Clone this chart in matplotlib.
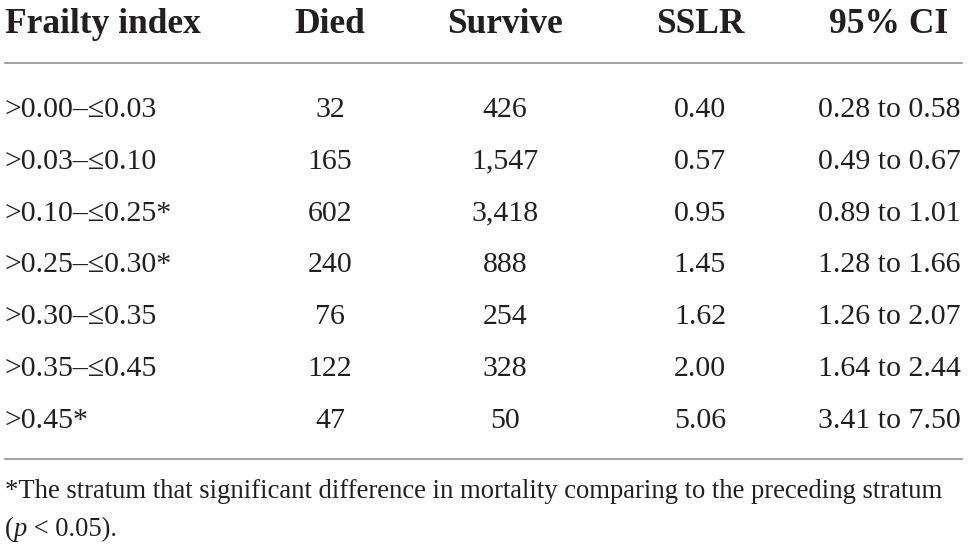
import matplotlib
matplotlib.use("Agg")
import matplotlib.pyplot as plt
from matplotlib.lines import Line2D

headers = ["Frailty index", "Died", "Survive", "SSLR", "95% CI"]
frailty = [">0.00–≤0.03", ">0.03–≤0.10", ">0.10–≤0.25*", ">0.25–≤0.30*",
           ">0.30–≤0.35", ">0.35–≤0.45", ">0.45*"]
died = ["32", "165", "602", "240", "76", "122", "47"]
survive = ["426", "1,547", "3,418", "888", "254", "328", "50"]
sslr = ["0.40", "0.57", "0.95", "1.45", "1.62", "2.00", "5.06"]
ci = ["0.28 to 0.58", "0.49 to 0.67", "0.89 to 1.01", "1.28 to 1.66",
      "1.26 to 2.07", "1.64 to 2.44", "3.41 to 7.50"]
footnote1 = "*The stratum that significant difference in mortality comparing to the preceding stratum"
footnote2_pre, footnote2_it, footnote2_post = "(", "p", " < 0.05)."

W, H = 968, 550
fig = plt.figure(figsize=(W / 100, H / 100), dpi=100)
fig.patch.set_facecolor("white")

FONT = ["Liberation Serif", "DejaVu Serif"]
TXT = "#231f20"
fs_head = 25.5
fs_body = 21.5
fs_foot = 19.2

def px(x, y):
    return x / W, 1 - y / H

col_x = [5, 330, 505, 700, 889]
col_ha = ["left", "center", "center", "center", "center"]

for h, x, ha in zip(headers, col_x, col_ha):
    fig.text(*px(x, 33), h, ha=ha, va="baseline", fontsize=fs_head,
             fontweight="bold", family=FONT, color=TXT)

row_y = [117 + 51.8 * i for i in range(len(frailty))]
cols = [frailty, died, survive, sslr, ci]
for col, x, ha in zip(cols, col_x, col_ha):
    for v, y in zip(col, row_y):
        fig.text(*px(x, y), v, ha=ha, va="baseline", fontsize=fs_body,
                 family=FONT, color=TXT)

for y in (63, 459):
    fig.add_artist(Line2D([5 / W, 962 / W], [1 - y / H, 1 - y / H],
                          color="#9a9a9a", lw=1.3, transform=fig.transFigure))

fig.text(*px(5, 498), footnote1, ha="left", va="baseline", fontsize=fs_foot,
         family=FONT, color=TXT)

r = fig.canvas.get_renderer()
t1 = fig.text(*px(5, 536), footnote2_pre, ha="left", va="baseline", fontsize=fs_foot,
              family=FONT, color=TXT)
bb = t1.get_window_extent(r)
t2 = fig.text(bb.x1 / W, 1 - 536 / H, footnote2_it, ha="left", va="baseline",
              fontsize=fs_foot, family=FONT, style="italic", color=TXT)
bb2 = t2.get_window_extent(r)
fig.text(bb2.x1 / W, 1 - 536 / H, footnote2_post, ha="left", va="baseline",
         fontsize=fs_foot, family=FONT, color=TXT)

fig.savefig("out.png", dpi=100, facecolor="white")
